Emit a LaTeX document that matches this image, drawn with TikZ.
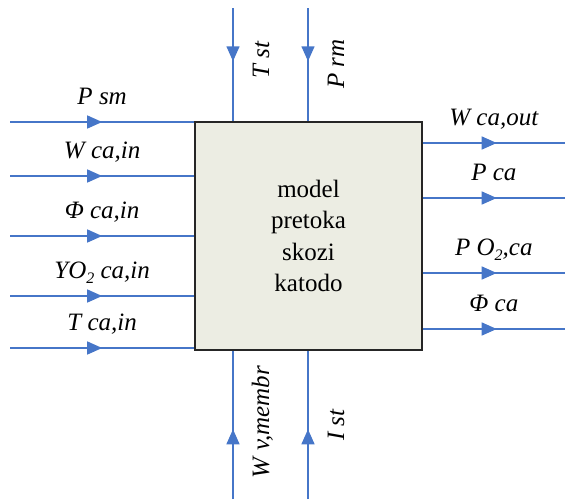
\documentclass[tikz,border=0pt]{standalone}
\usepackage{fontspec}
\setmainfont{LiberationSerif-Regular.ttf}[ItalicFont=LiberationSerif-Italic.ttf]
\usetikzlibrary{arrows.meta,decorations.markings,calc}

\definecolor{flowblue}{RGB}{70,118,200}
\definecolor{boxfill}{RGB}{236,237,227}

\newcommand{\subtwo}{\raisebox{-5pt}{\fontsize{16}{16}\selectfont 2}}

\begin{document}
\begin{tikzpicture}[x=1pt, y=-1pt]

% ---------------- styles ----------------
\tikzset{
  block/.style ={draw=black!85, line width=1.4pt, fill=boxfill,
                 minimum width=227pt, minimum height=228pt, inner sep=0pt,
                 align=center, font=\fontsize{25}{31.5}\selectfont},
  flow/.style  ={draw=flowblue, line width=1.5pt, postaction={decorate},
                 decoration={markings, mark=at position #1 with
                   {\arrow[flowblue]{Triangle[length=15pt,width=13pt]}}}},
  lbl/.style   ={font=\fontsize{25}{30}\selectfont\itshape,
                 text height=17pt, text depth=5pt, inner sep=2pt}
}

% ---------------- parameters ----------------
\def\xIn{10}     % start of the inputs on the left
\def\xOut{565}   % end of the outputs on the right
\def\yIn{8}      % start of the inputs on top
\def\yOut{499}   % start of the inputs from below

\useasboundingbox (0,0) rectangle (565,499);

% ---------------- block ----------------
\node[block] (box) at (308.5,236) {model\\ pretoka\\ skozi\\ katodo};

% ---------------- inputs, left ----------------
\foreach \n/\y/\t in {psm/122/{P sm}, wcain/176/{W ca,in}, phicain/236/{Φ ca,in},
                      yocain/296/{YO\subtwo{} ca,in}, tcain/348/{T ca,in}}{
  \coordinate (\n) at (\xIn,\y);
  \draw[flow=0.5] (\n) -- (\n -| box.west)
    node[lbl, midway, above=10pt] (\n-l) {\t};
}

% ---------------- outputs, right ----------------
\foreach \n/\y/\t in {wcaout/143/{W ca,out}, pca/198/{P ca},
                      poca/273/{P O\subtwo,ca}, phica/329/{Φ ca}}{
  \coordinate (\n) at (\xOut,\y);
  \draw[flow=0.52] (\n -| box.east) -- (\n)
    node[lbl, midway, above=10pt] (\n-l) {\t};
}

% ---------------- inputs, top ----------------
\coordinate (tst) at (233,\yIn);
\coordinate (prm) at (308,\yIn);
\draw[flow=0.47] (tst) -- (tst |- box.north);
\draw[flow=0.47] (prm) -- (prm |- box.north);
\node[lbl, rotate=90, anchor=north] (tst-l) at ($(tst)+(17,52)$) {T st};
\node[lbl, rotate=90, anchor=north] (prm-l) at ($(prm)+(17,56)$) {P rm};

% ---------------- inputs, bottom ----------------
\coordinate (wvm) at (233,\yOut);
\coordinate (ist) at (308,\yOut);
\draw[flow=0.47] (wvm) -- (wvm |- box.south);
\draw[flow=0.47] (ist) -- (ist |- box.south);
\node[lbl, rotate=90, anchor=north] (wvm-l) at ($(wvm)+(17,-77)$) {W v,membr};
\node[lbl, rotate=90, anchor=north] (ist-l) at ($(ist)+(17,-74)$) {I st};

\end{tikzpicture}
\end{document}
